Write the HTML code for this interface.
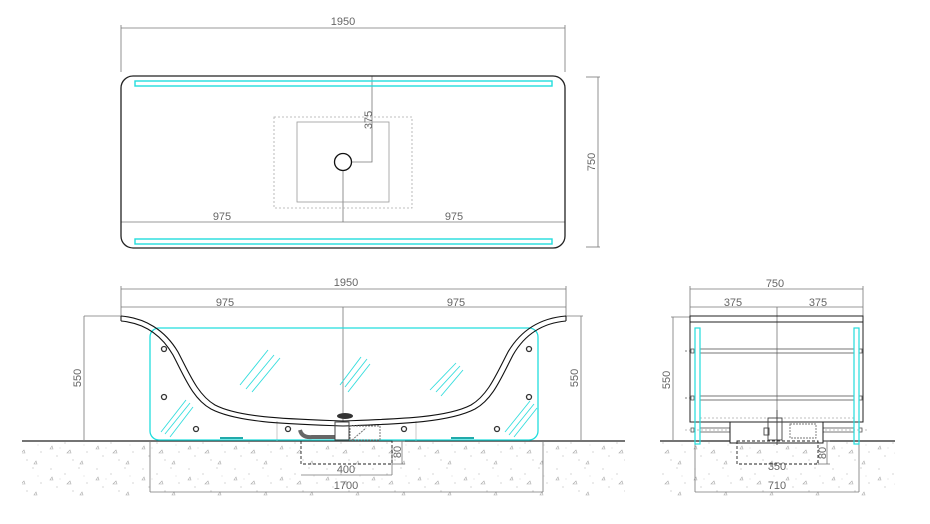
<!DOCTYPE html>
<html><head><meta charset="utf-8"><style>
html,body{margin:0;padding:0;background:#fff;}
svg{display:block;}
text{font-family:"Liberation Sans",sans-serif;fill:#666;font-size:11px;}
</style></head><body>
<svg width="930" height="524" viewBox="0 0 930 524" xmlns="http://www.w3.org/2000/svg">
<defs>
<pattern id="grav" width="46" height="31" patternUnits="userSpaceOnUse">
<rect width="46" height="31" fill="#fff"/>
<circle cx="5" cy="4" r="0.6" fill="#bbb"/><circle cx="19" cy="9" r="0.6" fill="#bbb"/>
<circle cx="33" cy="3" r="0.6" fill="#bbb"/><circle cx="41" cy="18" r="0.6" fill="#bbb"/>
<circle cx="11" cy="22" r="0.6" fill="#bbb"/><circle cx="27" cy="26" r="0.6" fill="#bbb"/>
<circle cx="38" cy="11" r="0.5" fill="#ccc"/><circle cx="14" cy="14" r="0.5" fill="#ccc"/>
<path d="M24 16 l-3 3 h4 z" fill="none" stroke="#aaa" stroke-width="0.6"/>
<path d="M6 12 l-2 3 h3 z" fill="none" stroke="#aaa" stroke-width="0.6"/>
<path d="M36 27 l-2 3 h3 z" fill="none" stroke="#aaa" stroke-width="0.6"/>
</pattern>
</defs>

<!-- ===== TOP VIEW ===== -->
<g stroke="#777" stroke-width="0.8" fill="none">
<line x1="121" y1="28" x2="565" y2="28"/>
<line x1="121" y1="25" x2="121" y2="72"/><line x1="565" y1="25" x2="565" y2="72"/>
<line x1="598" y1="77" x2="598" y2="247"/>
<line x1="586" y1="77" x2="600" y2="77"/><line x1="586" y1="247" x2="600" y2="247"/>
<line x1="121" y1="222" x2="565" y2="222"/>
<line x1="343" y1="170" x2="343" y2="222"/>
<polyline points="372,76 372,162 352,162"/>
<rect x="274" y="117" width="138" height="91" stroke="#aaa" stroke-dasharray="2,2"/>
<rect x="297" y="122" width="92" height="80" stroke="#999"/>
</g>
<rect x="121" y="76" width="444" height="172" rx="12" fill="none" stroke="#222" stroke-width="1.3"/>
<rect x="135" y="81" width="417" height="5" fill="none" stroke="#2dd" stroke-width="1.4"/>
<rect x="135" y="239" width="417" height="5" fill="none" stroke="#2dd" stroke-width="1.4"/>
<circle cx="343" cy="162" r="8.5" fill="none" stroke="#111" stroke-width="1.3"/>
<text x="343" y="25" text-anchor="middle">1950</text>
<text x="222" y="220" text-anchor="middle">975</text>
<text x="454" y="220" text-anchor="middle">975</text>
<text x="0" y="0" text-anchor="middle" transform="translate(372,120) rotate(-90)">375</text>
<text x="0" y="0" text-anchor="middle" transform="translate(595,162) rotate(-90)">750</text>

<!-- ===== GROUND ===== -->
<rect x="22" y="442" width="603" height="56" fill="url(#grav)"/>
<rect x="660" y="442" width="235" height="56" fill="url(#grav)"/>
<line x1="22" y1="441" x2="625" y2="441" stroke="#222" stroke-width="1.2"/>
<line x1="660" y1="441" x2="895" y2="441" stroke="#222" stroke-width="1.2"/>

<!-- ===== FRONT VIEW ===== -->
<g stroke="#777" stroke-width="0.8" fill="none">
<line x1="121" y1="289" x2="566" y2="289"/>
<line x1="121" y1="307" x2="566" y2="307"/>
<line x1="121" y1="286" x2="121" y2="316"/><line x1="566" y1="286" x2="566" y2="316"/>
<line x1="343" y1="307" x2="343" y2="421"/>
<line x1="84" y1="316" x2="84" y2="441"/><line x1="84" y1="316" x2="121" y2="316"/>
<line x1="581" y1="316" x2="581" y2="441"/><line x1="566" y1="316" x2="583" y2="316"/>
<line x1="150" y1="441" x2="150" y2="492"/><line x1="543" y1="441" x2="543" y2="492"/>
<line x1="150" y1="492" x2="543" y2="492"/>
<line x1="301" y1="475" x2="392" y2="475"/>
<line x1="392" y1="445" x2="392" y2="475"/>
<line x1="392" y1="441" x2="405" y2="441"/><line x1="392" y1="464" x2="405" y2="464"/>
<line x1="402" y1="441" x2="402" y2="464"/>
<line x1="277" y1="421" x2="277" y2="441" stroke="#bbb"/>
<line x1="416" y1="421" x2="416" y2="441" stroke="#bbb"/>
</g>
<rect x="301" y="441" width="91" height="23" fill="none" stroke="#222" stroke-width="0.9" stroke-dasharray="3,2"/>
<rect x="150" y="328" width="388" height="112" rx="9" fill="none" stroke="#2dd" stroke-width="1.3"/>
<line x1="220" y1="438" x2="243" y2="438" stroke="#2aa" stroke-width="2"/>
<line x1="451" y1="438" x2="474" y2="438" stroke="#2aa" stroke-width="2"/>
<path d="M121 316 C145 318 165 330 178 352 C190 375 198 395 215 405 C240 418 290 419 343 421 C396 419 446 418 471 405 C488 395 496 375 508 352 C521 330 541 318 566 316" fill="none" stroke="#111" stroke-width="1.1"/>
<path d="M121 321 C143 323 161 334 173 355 C185 378 193 399 211 409 C238 423 290 424 343 426 C396 424 448 423 475 409 C493 399 501 378 513 355 C525 334 543 323 566 321" fill="none" stroke="#111" stroke-width="1.1"/>
<line x1="121" y1="316" x2="121" y2="321" stroke="#111"/><line x1="566" y1="316" x2="566" y2="321" stroke="#111"/>
<g stroke="#3dd" stroke-width="0.9">
<line x1="240" y1="385" x2="268" y2="350"/><line x1="246" y1="389" x2="274" y2="355"/><line x1="252" y1="392" x2="280" y2="358"/>
<line x1="340" y1="385" x2="361" y2="357"/><line x1="345" y1="387" x2="367" y2="359"/><line x1="348" y1="392" x2="370" y2="364"/>
<line x1="430" y1="390" x2="456" y2="363"/><line x1="436" y1="392" x2="460" y2="366"/><line x1="441" y1="396" x2="463" y2="370"/>
<line x1="161" y1="432" x2="186" y2="400"/><line x1="165" y1="434" x2="190" y2="403"/><line x1="170" y1="437" x2="193" y2="407"/>
<line x1="505" y1="432" x2="530" y2="401"/><line x1="509" y1="435" x2="534" y2="404"/><line x1="514" y1="437" x2="537" y2="408"/>
</g>
<g fill="none" stroke="#333" stroke-width="1.3">
<circle cx="164" cy="349" r="2.5"/><circle cx="164" cy="397" r="2.5"/><circle cx="196" cy="429" r="2.5"/>
<circle cx="288" cy="429" r="2.5"/><circle cx="404" cy="429" r="2.5"/><circle cx="497" cy="429" r="2.5"/>
<circle cx="529" cy="349" r="2.5"/><circle cx="529" cy="397" r="2.5"/>
</g>
<ellipse cx="345" cy="416" rx="8" ry="3" fill="#333"/>
<path d="M300 430 Q302 438 312 437 L335 437" fill="none" stroke="#666" stroke-width="4"/>
<rect x="335" y="422" width="14" height="18" fill="none" stroke="#444"/>
<rect x="350" y="426" width="30" height="14" fill="none" stroke="#777" stroke-dasharray="2,1"/>
<line x1="352" y1="440" x2="366" y2="428" stroke="#777" stroke-dasharray="2,1"/>
<text x="346" y="286" text-anchor="middle">1950</text>
<text x="225" y="306" text-anchor="middle">975</text>
<text x="456" y="306" text-anchor="middle">975</text>
<text x="346" y="473" text-anchor="middle">400</text>
<text x="346" y="489" text-anchor="middle">1700</text>
<text x="0" y="0" text-anchor="middle" transform="translate(401,452) rotate(-90)">80</text>
<text x="0" y="0" text-anchor="middle" transform="translate(81,378) rotate(-90)">550</text>
<text x="0" y="0" text-anchor="middle" transform="translate(578,378) rotate(-90)">550</text>

<!-- ===== SIDE VIEW ===== -->
<g stroke="#777" stroke-width="0.8" fill="none">
<line x1="690" y1="289" x2="863" y2="289"/>
<line x1="690" y1="307" x2="863" y2="307"/>
<line x1="690" y1="286" x2="690" y2="316"/><line x1="863" y1="286" x2="863" y2="316"/>
<line x1="777" y1="307" x2="777" y2="420"/>
<line x1="673" y1="317" x2="673" y2="441"/><line x1="671" y1="317" x2="690" y2="317"/>
<line x1="695" y1="444" x2="695" y2="492"/><line x1="859" y1="444" x2="859" y2="492"/>
<line x1="695" y1="492" x2="859" y2="492"/>
<line x1="818" y1="441" x2="830" y2="441"/><line x1="818" y1="464" x2="830" y2="464"/>
<line x1="827" y1="441" x2="827" y2="464"/>
</g>
<rect x="690" y="316" width="173" height="106" fill="none" stroke="#222" stroke-width="1"/>
<line x1="690" y1="322" x2="863" y2="322" stroke="#222"/>
<g fill="none" stroke="#555" stroke-width="0.8">
<rect x="700" y="349" width="154" height="4"/><rect x="700" y="396" width="154" height="4"/><rect x="700" y="428" width="154" height="4"/>
<rect x="691" y="349" width="3" height="4"/><rect x="691" y="396" width="3" height="4"/><rect x="691" y="428" width="3" height="4"/>
<rect x="859" y="349" width="3" height="4"/><rect x="859" y="396" width="3" height="4"/><rect x="859" y="428" width="3" height="4"/>
<line x1="685" y1="351" x2="690" y2="351" stroke-dasharray="2,2"/><line x1="685" y1="398" x2="690" y2="398" stroke-dasharray="2,2"/>
<line x1="685" y1="430" x2="868" y2="430" stroke="#aaa" stroke-dasharray="2,2"/>
<line x1="700" y1="418" x2="854" y2="418" stroke="#aaa" stroke-dasharray="2,2"/>
</g>
<rect x="695" y="328" width="5" height="116" fill="none" stroke="#2dd" stroke-width="1.2"/>
<rect x="854" y="328" width="5" height="116" fill="none" stroke="#2dd" stroke-width="1.2"/>
<rect x="730" y="422" width="93" height="21" fill="#fff" stroke="#222" stroke-width="1"/>
<g stroke="#444" fill="none" stroke-width="0.9">
<rect x="768" y="418" width="14" height="22"/><line x1="777" y1="410" x2="777" y2="445"/>
<rect x="790" y="424" width="26" height="14" stroke-dasharray="2,1" stroke="#777"/>
<rect x="764" y="428" width="5" height="7"/>
</g>
<rect x="737" y="441" width="81" height="23" fill="none" stroke="#222" stroke-width="0.9" stroke-dasharray="3,2"/>
<text x="775" y="287" text-anchor="middle">750</text>
<text x="733" y="306" text-anchor="middle">375</text>
<text x="818" y="306" text-anchor="middle">375</text>
<text x="777" y="470" text-anchor="middle">350</text>
<text x="777" y="489" text-anchor="middle">710</text>
<text x="0" y="0" text-anchor="middle" transform="translate(826,453) rotate(-90)">80</text>
<text x="0" y="0" text-anchor="middle" transform="translate(670,380) rotate(-90)">550</text>
</svg>
</body></html>
